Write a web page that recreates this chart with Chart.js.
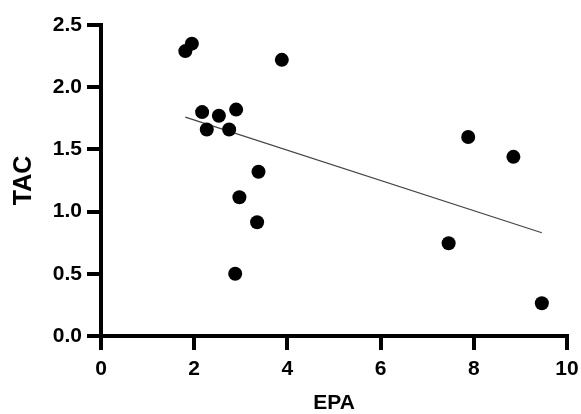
<!DOCTYPE html>
<html lang="en">
<head>
  <meta charset="UTF-8">
  <title>TAC vs EPA</title>
  <script src="https://cdn.jsdelivr.net/npm/chart.js"></script>
  <style>
    html, body {
      margin: 0;
      padding: 0;
      background: #ffffff;
    }
    #wrap {
      width: 581px;
      height: 414px;
    }
  </style>
</head>
<body>
  <div id="wrap"><canvas id="scatter"></canvas></div>

  <script>
    // measured points
    const epa = [1.81, 1.95, 3.88, 2.17, 2.53, 2.90, 2.27, 2.75, 3.38, 2.97, 3.35, 2.88, 7.88, 8.85, 7.46, 9.46];
    const tac = [2.29, 2.35, 2.22, 1.80, 1.77, 1.82, 1.66, 1.66, 1.32, 1.115, 0.914, 0.50, 1.60, 1.44, 0.745, 0.263];

    // regression line ends
    const fitX = [1.81, 9.46];
    const fitY = [1.76, 0.83];

    const xTicks = [0, 2, 4, 6, 8, 10];
    const yTicks = [0.0, 0.5, 1.0, 1.5, 2.0, 2.5];

    const fontFamily = "'Liberation Sans', Arial, Helvetica, sans-serif";

    const points = epa.map((x, i) => ({ x: x, y: tac[i] }));
    const fit = fitX.map((x, i) => ({ x: x, y: fitY[i] }));

    const axisBits = {
      grid: {
        display: true,
        drawOnChartArea: false,
        drawTicks: true,
        tickLength: 14,
        color: '#000',
        lineWidth: 4
      },
      border: { display: true, color: '#000', width: 4 }
    };

    new Chart(document.getElementById('scatter'), {
      type: 'scatter',
      data: {
        datasets: [
          {
            label: 'TAC',
            data: points,
            pointRadius: 7,
            pointHoverRadius: 7,
            backgroundColor: '#000',
            borderColor: '#000',
            borderWidth: 0
          },
          {
            type: 'line',
            label: 'fit',
            data: fit,
            borderColor: '#444',
            borderWidth: 1.2,
            pointRadius: 0,
            fill: false
          }
        ]
      },
      options: {
        responsive: true,
        maintainAspectRatio: false,
        animation: false,
        layout: { padding: { left: 0, right: 14, top: 25, bottom: 0 } },
        plugins: {
          legend: { display: false },
          tooltip: { enabled: false }
        },
        scales: {
          x: {
            type: 'linear',
            min: 0,
            max: 10,
            afterBuildTicks: axis => { axis.ticks = xTicks.map(v => ({ value: v })); },
            afterFit: axis => {
              axis.height = 78;
              axis.paddingLeft = 0;
              axis.paddingRight = 0;
            },
            ticks: {
              color: '#000',
              padding: 7,
              font: { family: fontFamily, size: 21, weight: 'bold' }
            },
            title: {
              display: true,
              text: 'EPA',
              color: '#000',
              padding: { top: 0, bottom: 0 },
              font: { family: fontFamily, size: 21, weight: 'bold', lineHeight: 1.0 }
            },
            ...axisBits
          },
          y: {
            type: 'linear',
            min: 0,
            max: 2.5,
            afterBuildTicks: axis => { axis.ticks = yTicks.map(v => ({ value: v })); },
            afterFit: axis => { axis.width = 101; },
            ticks: {
              color: '#000',
              padding: 5,
              callback: v => v.toFixed(1),
              font: { family: fontFamily, size: 21, weight: 'bold' }
            },
            title: {
              display: true,
              text: 'TAC',
              color: '#000',
              padding: { top: 9, bottom: 0 },
              font: { family: fontFamily, size: 25, weight: 'bold' }
            },
            ...axisBits
          }
        }
      }
    });
  </script>
</body>
</html>
